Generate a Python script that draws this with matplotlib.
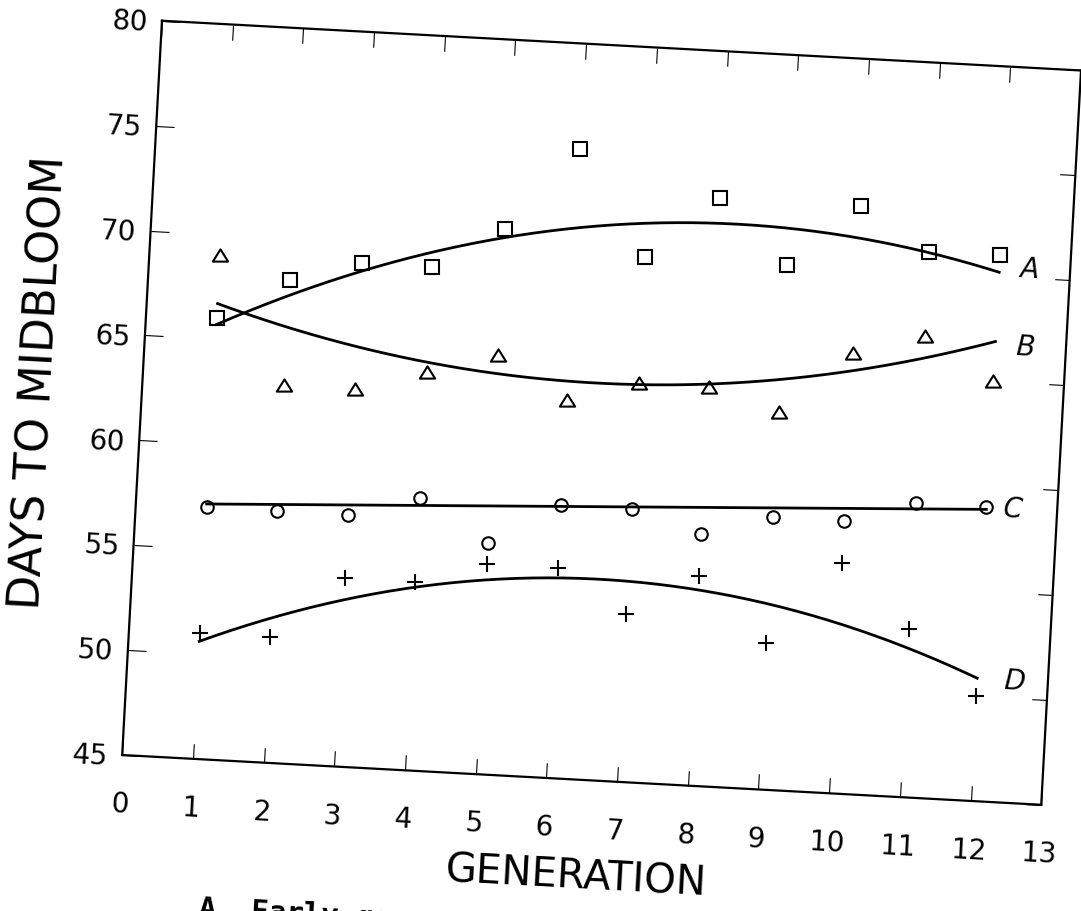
import numpy as np
import matplotlib
matplotlib.use("Agg")
import matplotlib.pyplot as plt
from matplotlib.path import Path
from matplotlib.transforms import Affine2D
import mpl_toolkits.axisartist.floating_axes as floating_axes
from mpl_toolkits.axisartist.grid_finder import FixedLocator

# Values (days to midbloom per generation)
generations = [1, 2, 3, 4, 5, 6, 7, 8, 9, 10, 11, 12]
days_a = [66, 68, 69, 69, 71, 75, 70, 73, 70, 73, 71, 71]   # squares
days_b = [69, 63, 63, 64, 65, 63, 64, 64, 63, 66, 67, 65]   # triangles
days_c = [57, 57, 57, 58, 56, 58, 58, 57, 58, 58, 59, 59]   # circles
days_d = [51, 51, 54, 54, 55, 55, 53, 55, 52, 56, 53, 50]   # crosses

# fitted curves as drawn in the figure, read at generations 1, 6.5 and 12
curve_gen = [1, 6.5, 12]
curve_a = [65.7, 71.45, 70.2]
curve_b = [66.7, 63.9, 66.9]
curve_c = [57.15, 58.02, 58.9]
curve_d = [50.6, 54.58, 50.85]
curve_names = ["A", "B", "C", "D"]
label_x = [12.43, 12.42, 12.38, 12.52]
label_y = [70.4, 66.67, 58.94, 50.78]

x_ticks = list(range(0, 14))
y_ticks = [45, 50, 55, 60, 65, 70, 75, 80]

# the scan is tilted ~3 degrees, so use a rotated floating axes
ANGLE = -3.1
PX_X, PX_Y = 70.8, 21.01   # pixels per data unit
tr = Affine2D().scale(PX_X, PX_Y).rotate_deg(ANGLE)

grid_helper = floating_axes.GridHelperCurveLinear(
    tr, extremes=(0, 13, 45, 80),
    grid_locator1=FixedLocator(x_ticks),
    grid_locator2=FixedLocator(y_ticks))

fig = plt.figure(figsize=(10.81, 9.11), dpi=100)
# host box sized so that one host unit is one pixel (bbox is padded by 2%)
ax = fig.add_axes([0.10416, 0.10799, 0.90472, 0.87787],
                  axes_class=floating_axes.FloatingAxes, grid_helper=grid_helper)

for side in ["left", "right", "top", "bottom"]:
    ax.axis[side].line.set_linewidth(1.6)
    ax.axis[side].major_ticks.set_ticksize(11)
    ax.axis[side].major_ticks.set_linewidth(1.5)
    ax.axis[side].major_ticks.set_tick_out(False)
ax.axis["left"].major_ticks.set_ticksize(13)
for side in ["right", "top"]:
    ax.axis[side].major_ticklabels.set_visible(False)

# tick labels already follow the tilt of the axes
for side in ["left", "bottom"]:
    ax.axis[side].major_ticklabels.set_fontsize(20)
ax.axis["left"].major_ticklabels.set_pad(11)
ax.axis["left"].major_ticklabels.set_va("center_baseline")
ax.axis["bottom"].major_ticklabels.set_pad(25)

ax.axis["left"].label.set_text("DAYS TO MIDBLOOM")
ax.axis["left"].label.set_fontsize(32)
ax.axis["left"].label.set_pad(22)
ax.axis["bottom"].label.set_text("GENERATION")
ax.axis["bottom"].label.set_fontsize(29)
ax.axis["bottom"].label.set_pad(13)

aux = ax.get_aux_axes(tr)

# flat triangle like the plotter symbol
tri = Path([(0, 0.8), (-1, -0.8), (1, -0.8), (0, 0.8)],
           [Path.MOVETO, Path.LINETO, Path.LINETO, Path.CLOSEPOLY])

gen = np.array(generations)
points = [
    (days_a, "s", 9.6),
    (days_b, tri, 11),
    (days_c, "o", 9),
    (days_d, "+", 11),
]
for vals, mk, ms in points:
    aux.plot(gen, vals, linestyle="none", marker=mk, markersize=ms,
             markerfacecolor="none", markeredgecolor="k", markeredgewidth=1.5)

xs = np.linspace(1, 12, 200)
for vals, deg in [(curve_a, 2), (curve_b, 2), (curve_c, 1), (curve_d, 2)]:
    coef = np.polyfit(curve_gen, vals, deg)
    aux.plot(xs, np.polyval(coef, xs), color="k", lw=2.0)

for name, lx, ly in zip(curve_names, label_x, label_y):
    aux.text(lx, ly, name, fontsize=20, style="italic", ha="center", va="center",
             rotation=ANGLE, rotation_mode="anchor")

fig.text(198 / 1081, 1 - 895 / 911, "A. Early gen", fontsize=21,
         family="DejaVu Sans Mono", weight="bold", rotation=ANGLE,
         ha="left", va="top")

fig.savefig("out.png", dpi=100)
